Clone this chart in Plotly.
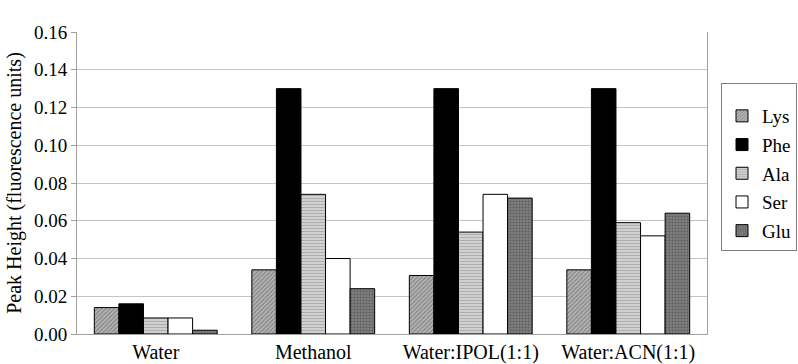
import plotly.graph_objects as go

categories = ["Water", "Methanol", "Water:IPOL(1:1)", "Water:ACN(1:1)"]
series_names = ["Lys", "Phe", "Ala", "Ser", "Glu"]
lys = [0.014, 0.034, 0.031, 0.034]
phe = [0.016, 0.130, 0.130, 0.130]
ala = [0.0085, 0.074, 0.054, 0.059]
ser = [0.0085, 0.040, 0.074, 0.052]
glu = [0.002, 0.024, 0.072, 0.064]
y_ticks = [0.00, 0.02, 0.04, 0.06, 0.08, 0.10, 0.12, 0.14, 0.16]
y_tick_labels = ["0.00", "0.02", "0.04", "0.06", "0.08", "0.10", "0.12", "0.14", "0.16"]

values = [lys, phe, ala, ser, glu]
styles = [
    dict(color="#a8a8a8", pattern=dict(shape="/", fgcolor="#4a4a4a", bgcolor="#b4b4b4", size=3, solidity=0.35)),
    dict(color="#000000"),
    dict(color="#d0d0d0", pattern=dict(shape="-", fgcolor="#8a8a8a", bgcolor="#d4d4d4", size=3, solidity=0.4)),
    dict(color="#ffffff"),
    dict(color="#707070", pattern=dict(shape=".", fgcolor="#3a3a3a", bgcolor="#808080", size=3, solidity=0.4)),
]

FONT = "Liberation Serif, Times New Roman, serif"
fig = go.Figure()
for name, vals, st in zip(series_names, values, styles):
    marker = dict(color=st["color"], line=dict(color="#000000", width=1))
    if "pattern" in st:
        marker["pattern"] = st["pattern"]
    fig.add_trace(go.Bar(name=name, x=categories, y=vals, marker=marker, legendgroup=name))

fig.update_layout(
    width=798, height=364,
    margin=dict(l=77, r=91, t=32, b=30, autoexpand=False),
    paper_bgcolor="white", plot_bgcolor="white",
    barmode="group", bargap=0.22, bargroupgap=0,
    font=dict(family=FONT, color="#000000", size=18),
    showlegend=True,
    legend=dict(
        xref="container", yref="container", x=721/798, y=1-83/364,
        xanchor="left", yanchor="top",
        bordercolor="#808080", borderwidth=1, bgcolor="white",
        font=dict(family=FONT, size=19), tracegroupgap=1,
        itemwidth=30,
        title=dict(text=" ", font=dict(family=FONT, size=10)),
    ),
    xaxis=dict(
        showgrid=False, showline=True, linecolor="#a0a0a0", linewidth=1,
        mirror=False, ticks="", tickfont=dict(family=FONT, size=20),
        automargin=False, ticklabelstandoff=0,
    ),
    yaxis=dict(
        range=[0, 0.16], tickvals=y_ticks, ticktext=y_tick_labels,
        showgrid=True, gridcolor="#c4c4c4", gridwidth=1,
        showline=True, linecolor="#a0a0a0", linewidth=1, mirror=True,
        ticks="outside", ticklen=5, tickcolor="#a0a0a0",
        tickfont=dict(family=FONT, size=19),
        title=dict(text="Peak Height (fluorescence units)", font=dict(family=FONT, size=20), standoff=6),
        zeroline=False, automargin=False,
    ),
)

fig.write_html("out.html")
